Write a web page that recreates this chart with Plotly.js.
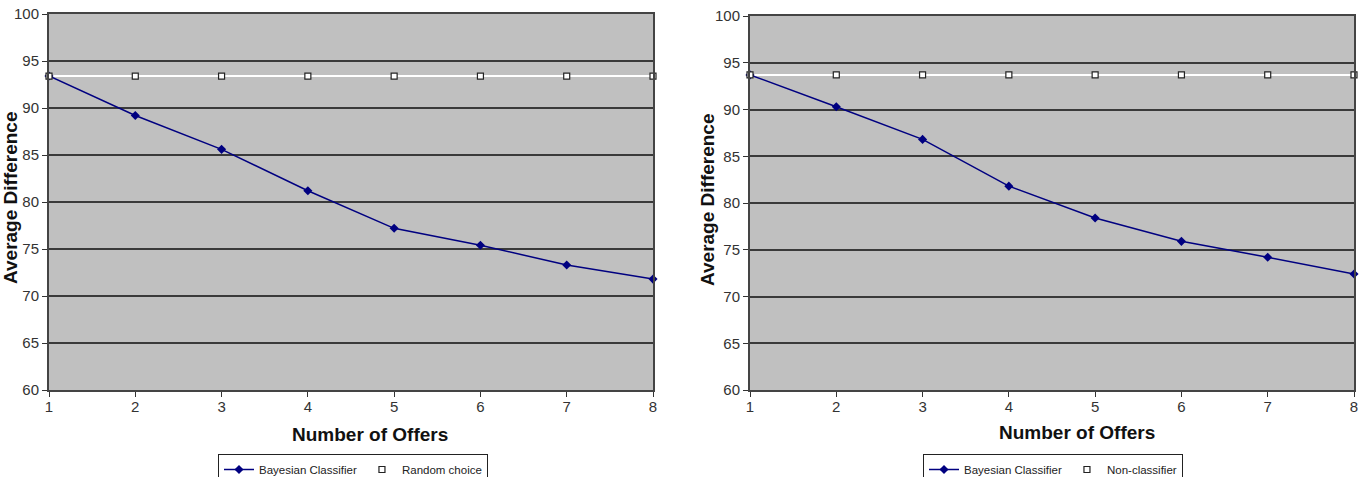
<!DOCTYPE html>
<html>
<head>
<meta charset="utf-8">
<script src="https://cdn.plot.ly/plotly-3.0.1.min.js"></script>
<style>
  html, body { margin: 0; padding: 0; background: #fff; }
  #chart { width: 1360px; height: 477px; }
</style>
</head>
<body>
<div id="chart"></div>
<script>
// Number of offers shown on both panels
const offers = [1, 2, 3, 4, 5, 6, 7, 8];

// Left panel: Bayesian classifier vs. random choice
const bayesLeft = [93.4, 89.2, 85.6, 81.2, 77.2, 75.4, 73.3, 71.8];
const randomChoice = [93.4, 93.4, 93.4, 93.4, 93.4, 93.4, 93.4, 93.4];

// Right panel: Bayesian classifier vs. non-classifier
const bayesRight = [93.7, 90.3, 86.8, 81.8, 78.4, 75.9, 74.2, 72.4];
const nonClassifier = [93.7, 93.7, 93.7, 93.7, 93.7, 93.7, 93.7, 93.7];

const yTicks = [60, 65, 70, 75, 80, 85, 90, 95, 100];

const W = 1360, H = 477;
const FONT = 'Liberation Sans, Arial, sans-serif';
const NAVY = '#000080';

function bayesTrace(y, xa, ya, lg) {
  return {
    x: offers, y: y, xaxis: xa, yaxis: ya, legend: lg,
    name: 'Bayesian Classifier', mode: 'lines+markers',
    line: { color: NAVY, width: 1.5 },
    marker: { symbol: 'diamond', size: 7, color: NAVY },
    cliponaxis: false
  };
}
function baselineLine(y, xa, ya) {
  return {
    x: offers, y: y, xaxis: xa, yaxis: ya,
    mode: 'lines', line: { color: '#ffffff', width: 2 },
    showlegend: false, hoverinfo: 'skip'
  };
}
function baselineMarks(y, name, xa, ya, lg) {
  return {
    x: offers, y: y, xaxis: xa, yaxis: ya, legend: lg, name: name,
    mode: 'markers',
    marker: { symbol: 'square', size: 6, color: '#ffffff',
              line: { color: '#222222', width: 1.2 } },
    cliponaxis: false
  };
}

const data = [
  baselineLine(randomChoice, 'x', 'y'),
  bayesTrace(bayesLeft, 'x', 'y', 'legend'),
  baselineMarks(randomChoice, 'Random choice', 'x', 'y', 'legend'),
  baselineLine(nonClassifier, 'x2', 'y2'),
  bayesTrace(bayesRight, 'x2', 'y2', 'legend2'),
  baselineMarks(nonClassifier, 'Non-classifier', 'x2', 'y2', 'legend2')
];

function xAxis(domain, anchor) {
  return {
    domain: domain, anchor: anchor, range: [1, 8],
    tickvals: offers, ticks: 'outside', ticklen: 5, tickwidth: 1,
    tickcolor: '#333', showgrid: false, zeroline: false,
    showline: true, linecolor: '#444', linewidth: 2, mirror: true,
    ticklabelstandoff: -3,
    tickfont: { family: FONT, size: 15, color: '#333' }
  };
}
function yAxis(domain, anchor) {
  return {
    domain: domain, anchor: anchor, range: [60, 100],
    tickvals: yTicks, ticks: 'outside', ticklen: 5, tickwidth: 1,
    tickcolor: '#333', showgrid: true, gridcolor: '#3a3a3a', gridwidth: 2,
    zeroline: false, showline: true, linecolor: '#444', linewidth: 2,
    mirror: true, tickfont: { family: FONT, size: 15, color: '#333' }
  };
}

const legendBase = {
  orientation: 'h', xanchor: 'left', yanchor: 'top',
  bgcolor: '#ffffff', bordercolor: '#222', borderwidth: 1,
  font: { family: FONT, size: 11.5, color: '#222' },
  tracegroupgap: 0
};

const titleFont = { family: FONT, size: 19, color: '#111', weight: 'bold' };

function title(text, x, y, angle) {
  return {
    text: text, xref: 'paper', yref: 'paper', x: x / W, y: 1 - y / H,
    xanchor: 'center', yanchor: 'middle', textangle: angle || 0,
    showarrow: false, font: titleFont
  };
}

const layout = {
  width: W, height: H,
  margin: { l: 0, r: 0, t: 0, b: 0, autoexpand: false },
  paper_bgcolor: '#ffffff',
  plot_bgcolor: '#c0c0c0',
  xaxis: xAxis([49 / W, 653 / W], 'y'),
  yaxis: yAxis([1 - 390 / H, 1 - 14 / H], 'x'),
  xaxis2: xAxis([750 / W, 1354 / W], 'y2'),
  yaxis2: yAxis([1 - 390 / H, 1 - 16 / H], 'x2'),
  legend: Object.assign({}, legendBase, { x: 218 / W, y: 1 - 454 / H }),
  legend2: Object.assign({}, legendBase, { x: 923 / W, y: 1 - 454 / H }),
  annotations: [
    title('Number of Offers', 370, 434),
    title('Number of Offers', 1077, 432),
    title('Average Difference', 10, 198, -90),
    title('Average Difference', 707, 200, -90)
  ],
  showlegend: true
};

Plotly.newPlot('chart', data, layout, { displayModeBar: false, staticPlot: true });
</script>
</body>
</html>
